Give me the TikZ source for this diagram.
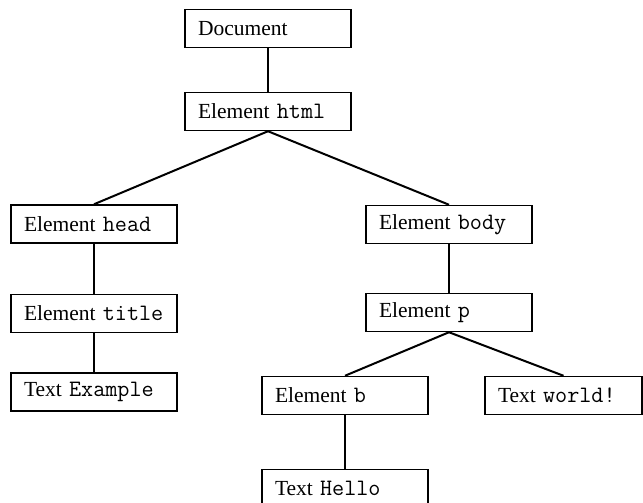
\documentclass[tikz,border=0pt]{standalone}
\usepackage{fontspec}
\setmainfont{Liberation Serif}
\usetikzlibrary{graphs}
\newcommand{\code}[1]{{\fontsize{23.5}{24}\selectfont\ttfamily #1}}

\begin{document}
\begin{tikzpicture}[x=1pt,y=-1pt,
    domnode/.style={draw,line width=1.5pt,rectangle,inner xsep=13pt,inner ysep=0pt,
      minimum height=38pt,text width=140pt,align=left,
      font=\fontsize{21.5}{24}\selectfont},
    every edge/.style={draw,line width=2pt}]
      \useasboundingbox (0,0) rectangle (643,503);
      \clip (0,0) rectangle (643,503);

      \node[domnode] (doc) at (268,28.5) {Document};
      \node[domnode] (html) at (268,111.5) {Element \code{html}};
      \node[domnode] (head) at (94,224) {Element \code{head}};
      \node[domnode] (body) at (449,224.5) {Element \code{body}};
      \node[domnode] (title) at (94,313.5) {Element \code{title}};
      \node[domnode] (p) at (449,312.5) {Element \code{p}};
      \node[domnode] (example) at (94,392) {Text \code{Example}};
      \node[domnode] (b) at (345,395.5) {Element \code{b}};
      \node[domnode,text width=131pt] (world) at (563.5,395.5) {Text \code{world!}};
      \node[domnode] (hello) at (345,488.5) {Text \code{Hello}};

      \graph[use existing nodes]{
        doc.south -- html.north;
        html.south -- head.north;
        html.south -- body.north;
        head.south -- title.north;
        title.south -- example.north;
        body.south -- p.north;
        p.south -- b.north;
        p.south -- world.north;
        b.south -- hello.north
      };
    \end{tikzpicture}
\end{document}
